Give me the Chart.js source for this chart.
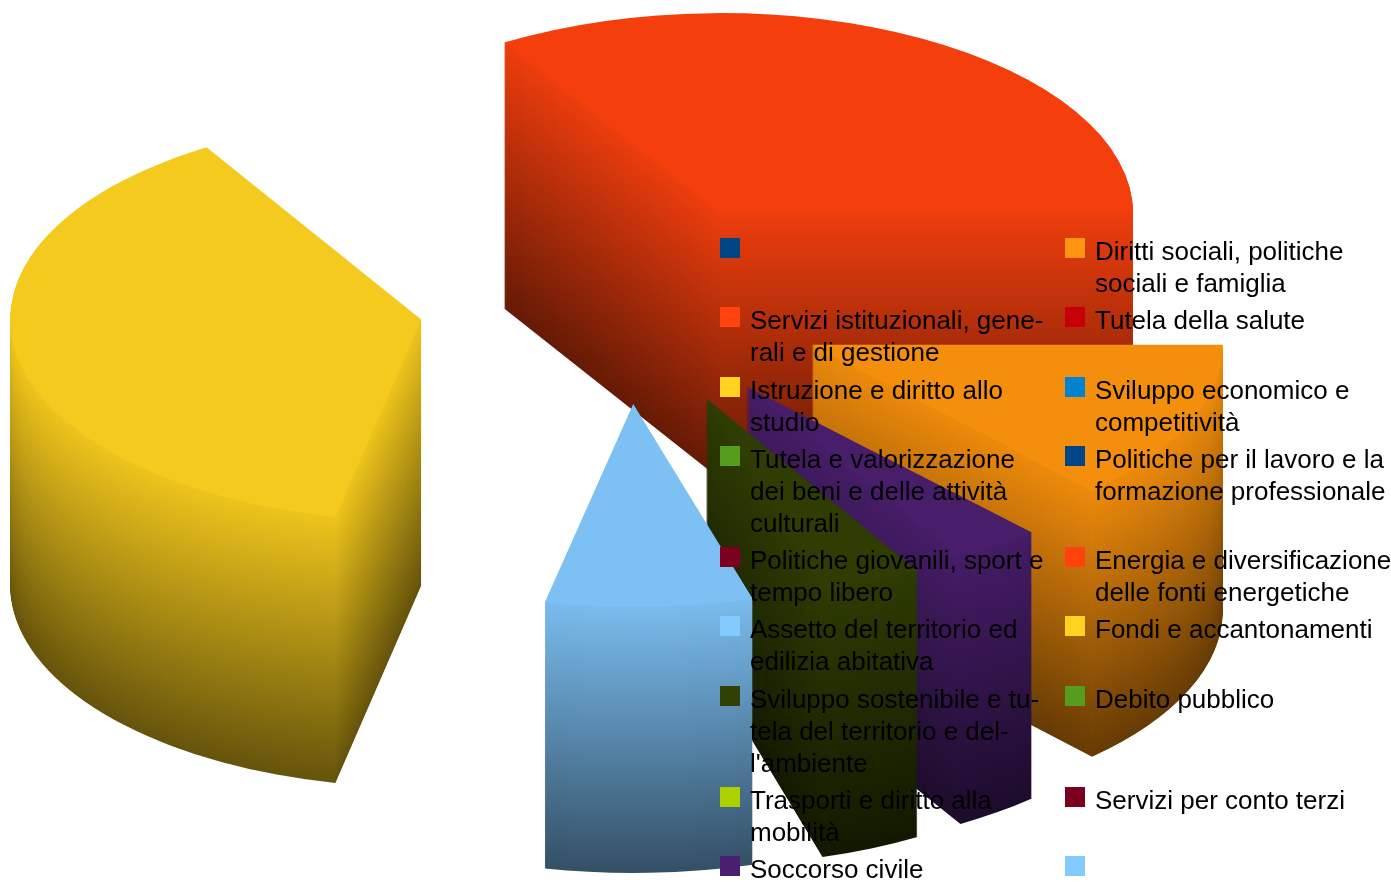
<!DOCTYPE html>
<html lang="it">
<head>
<meta charset="utf-8">
<title>Spese per missione</title>
<script src="https://cdn.jsdelivr.net/npm/chart.js@4"></script>
<style>
    html, body { margin: 0; padding: 0; background: #fff; overflow: hidden; }
    #wrap { position: relative; width: 1391px; height: 882px; overflow: hidden; }
    #legend {
        position: absolute; left: 720px; top: 235px;
        display: grid; grid-auto-flow: column;
        grid-template-rows: repeat(9, auto); grid-template-columns: 345px 345px;
        row-gap: 5.25px;
        font: 26px/32px "Liberation Sans", sans-serif; color: #000;
    }
    .item { position: relative; padding-left: 30px; min-height: 32px; white-space: pre-line; }
    .swatch { position: absolute; left: 0; top: 3px; width: 20px; height: 20px; }
</style>
</head>
<body>
<div id="wrap">
    <canvas id="chart" width="1391" height="882"></canvas>
    <div id="legend"></div>
</div>
<script>
// categorie come nella legenda (a capo come nell'originale)
const categories = [
    "",
    "Servizi istituzionali, gene-\nrali e di gestione",
    "Istruzione e diritto allo\nstudio",
    "Tutela e valorizzazione\ndei beni e delle attività\nculturali",
    "Politiche giovanili, sport e\ntempo libero",
    "Assetto del territorio ed\nedilizia abitativa",
    "Sviluppo sostenibile e tu-\ntela del territorio e del-\nl'ambiente",
    "Trasporti e diritto alla\nmobilità",
    "Soccorso civile",
    "Diritti sociali, politiche\nsociali e famiglia",
    "Tutela della salute",
    "Sviluppo economico e\ncompetitività",
    "Politiche per il lavoro e la\nformazione professionale",
    "Energia e diversificazione\ndelle fonti energetiche",
    "Fondi e accantonamenti",
    "Debito pubblico",
    "Servizi per conto terzi",
    ""
];
// valori stimati dal disegno (percentuali)
const values = [0, 33.75, 37.9, 0, 0, 7.9, 4.0, 0, 3.4, 13.05, 0, 0, 0, 0, 0, 0, 0, 0];
const colors = [
    "#004586", "#ff420e", "#ffd320", "#579d1c", "#7e0021", "#83caff",
    "#314004", "#aecf00", "#4b1f6f", "#ff950e", "#c5000b", "#0084d1",
    "#004586", "#ff420e", "#ffd320", "#579d1c", "#7e0021", "#83caff"
];

// fette visibili dal fondo verso il davanti: esplosione e correzione prospettica
const solids = [
    { index: 1, explode: 214, sx: 1.005, sy: 1.005, shift: 0 },
    { index: 2, explode: 197, sx: 1, sy: 1.015, shift: 0 },
    { index: 9, explode: 214, sx: 1, sy: 1.005, shift: 0 },
    { index: 8, explode: 214, sx: 1.02, sy: 1.005, shift: 2 },
    { index: 6, explode: 214, sx: 1.005, sy: 1.01, shift: 5 },
    { index: 5, explode: 208, sx: 1.03, sy: 1.02, shift: 10 }
];

const tilt = 0.484;
const depth = 266;
const originX = 615.4;
const originY = 303.4;

function shade(hex, f) {
    const n = parseInt(hex.slice(1), 16);
    const r = Math.round((n >> 16 & 255) * f);
    const g = Math.round((n >> 8 & 255) * f);
    const b = Math.round((n & 255) * f);
    return `rgb(${r},${g},${b})`;
}

// disegna ogni fetta come pila di strati per avere il solido
const pie3d = {
    id: 'pie3d',
    beforeDatasetDraw(chart, args) {
        const ctx = chart.ctx;
        const arcs = args.meta.data;
        solids.forEach(s => {
            const arc = arcs[s.index];
            const base = arc.options;
            const mid = (arc.startAngle + arc.endAngle) / 2;
            const ox = originX + s.shift + Math.cos(mid) * s.explode;
            const oy = originY - Math.sin(mid) * s.explode * tilt;
            for (let z = depth; z >= 0; z--) {
                const f = z === 0 ? 0.955 : 0.93 - 0.53 * z / depth;
                arc.options = Object.assign({}, base, { backgroundColor: shade(colors[s.index], f) });
                ctx.save();
                ctx.translate(ox, oy + z);
                ctx.scale(s.sx, -tilt * s.sy);
                ctx.translate(-arc.x, -arc.y);
                arc.draw(ctx);
                ctx.restore();
            }
            arc.options = base;
        });
        return false;
    }
};

new Chart(document.getElementById("chart"), {
    type: 'pie',
    data: {
        labels: categories,
        datasets: [{ data: values, backgroundColor: colors, borderWidth: 0 }]
    },
    options: {
        responsive: false,
        animation: false,
        rotation: 90,
        radius: 411,
        plugins: { legend: { display: false }, tooltip: { enabled: false } }
    },
    plugins: [pie3d]
});

// legenda in due colonne
const legend = document.getElementById("legend");
categories.forEach((name, i) => {
    const item = document.createElement("div");
    item.className = "item";
    const swatch = document.createElement("span");
    swatch.className = "swatch";
    swatch.style.background = colors[i];
    item.appendChild(swatch);
    item.appendChild(document.createTextNode(name));
    legend.appendChild(item);
});
</script>
</body>
</html>
